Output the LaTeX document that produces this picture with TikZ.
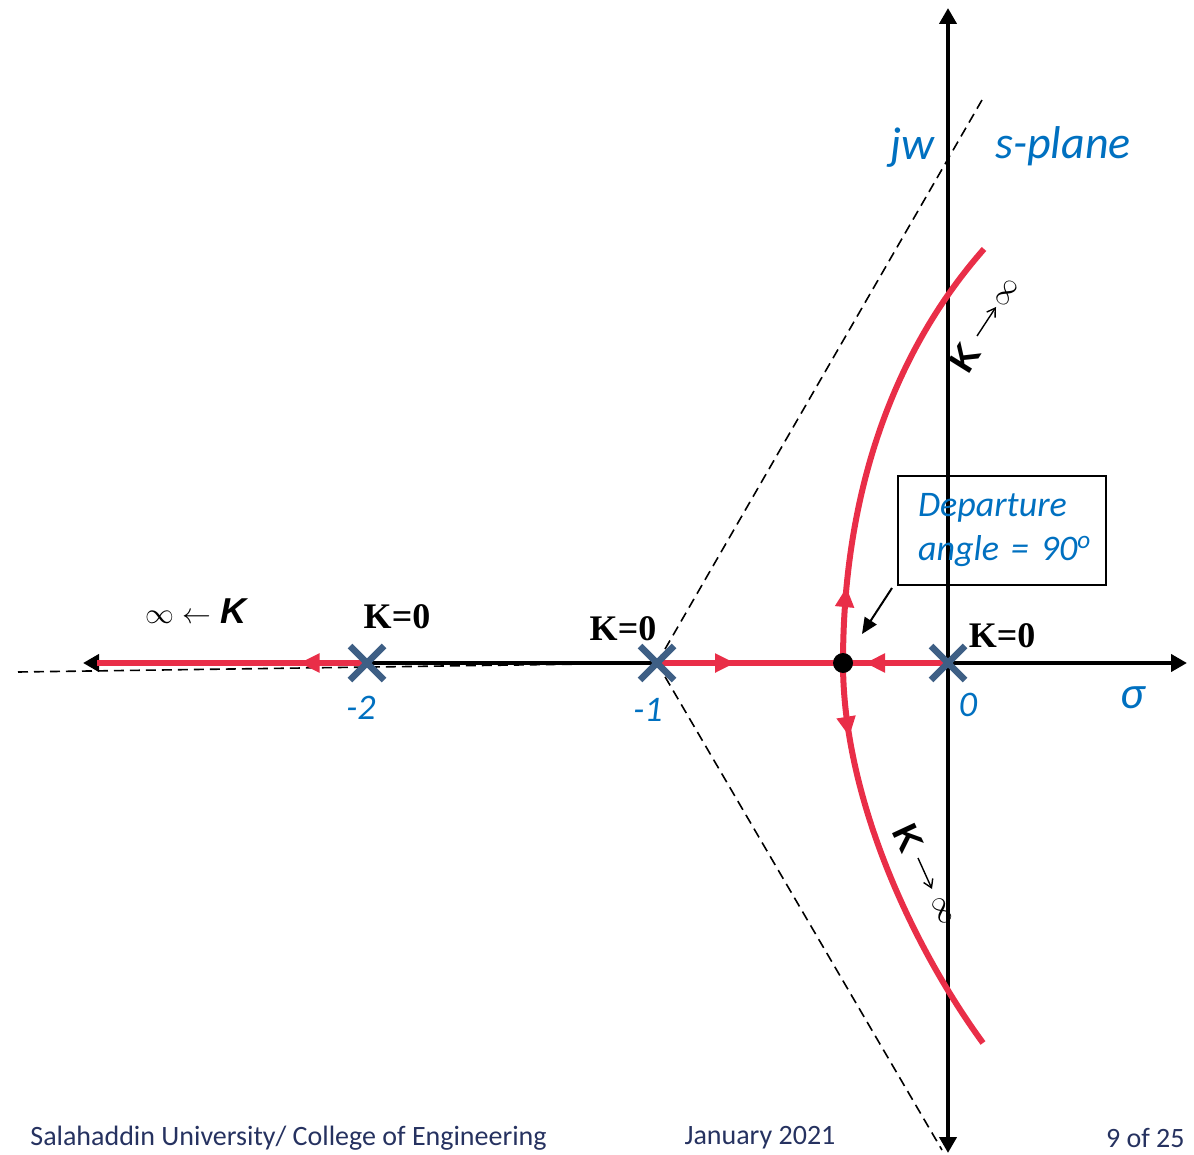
\documentclass[tikz,border=0pt]{standalone}
\usepackage{fontspec}
\usetikzlibrary{arrows.meta,decorations.markings}
\newfontfamily\cand{Carlito}
\newfontfamily\tnr{Liberation Serif}
\newfontfamily\lsans{Liberation Sans}
\definecolor{locus}{RGB}{233,46,72}
\definecolor{polec}{RGB}{62,95,133}
\definecolor{lblue}{RGB}{0,112,192}
\definecolor{navy}{RGB}{38,50,96}
\tikzset{
  axis/.style={line width=2pt,{Triangle[length=8pt,width=8.5pt]}-{Triangle[length=8pt,width=8.5pt]}},
  asym/.style={line width=0.8pt,dash pattern=on 5pt off 3pt},
  locus/.style={draw=locus,line width=3pt},
  midarrow/.style={postaction={decorate},decoration={markings,mark=at position #1 with {\arrow[locus]{Triangle[length=10pt,width=9pt]}}}},
  polemark/.style={draw=polec,line width=3.2pt},
  klab/.style={font=\tnr\bfseries\fontsize{18}{20}\selectfont,inner sep=0pt},
  blab/.style={font=\cand\itshape\fontsize{18}{20}\selectfont,text=lblue,inner sep=0pt},
  foot/.style={font=\cand\fontsize{14}{16}\selectfont,text=navy,inner sep=0pt},
  ptr/.style={line width=1pt,-{Triangle[length=8pt,width=7pt]}},
  kbig/.style={font=\lsans\bfseries\fontsize{18}{20}\selectfont,inner sep=1pt},
  infl/.style={font=\fontsize{15}{17}\selectfont,inner sep=1pt},
  thinptr/.style={line width=0.7pt,-{Straight Barb[length=4pt,width=5pt]}},
}
\begin{document}
\begin{tikzpicture}[x=0.5pt,y=-0.5pt]
\useasboundingbox (0,0) rectangle (1194,1155);
% coordinates
\coordinate (p2) at (367,663);
\coordinate (p1) at (657,663);
\coordinate (p0) at (948,663);
\coordinate (bk) at (843,663);
\coordinate (xl) at (83,663);
\coordinate (xr) at (1187,663);
\coordinate (yt) at (948,8);
\coordinate (yb) at (948,1153);
\coordinate (a0) at (18,672);
\coordinate (au) at (982,100);
\coordinate (ad) at (942,1150);
\coordinate (lend) at (97,663);
\coordinate (uend) at (984,249);
\coordinate (dend) at (983,1043);
% asymptotes
\draw[asym] (a0) -- (p1);
\draw[asym] (p1) -- (au);
\draw[asym] (p1) -- (ad);
% axes
\draw[axis] (xl) -- (xr);
\draw[axis] (yb) -- (yt);
% loci
\draw[locus,midarrow=0.25] (p2) -- (lend);
\draw[locus,midarrow=0.42] (p1) -- (bk);
\draw[locus,midarrow=0.79] (p0) -- (bk);
\draw[locus,midarrow=0.17] (bk) .. controls (843,490) and (895,350) .. (uend);
\draw[locus,midarrow=0.18] (bk) .. controls (843,800) and (915,950) .. (dend);
% poles
\foreach \p in {p2,p1,p0}{
  \draw[polemark] ([shift={(-17,-17)}]\p) -- ([shift={(17,17)}]\p);
  \draw[polemark] ([shift={(-17,17)}]\p) -- ([shift={(17,-17)}]\p);
}
\fill (bk) circle (10);
% labels
\node[klab] (k2) at (397,617) {K=0};
\node[klab] (k1) at (623,629) {K=0};
\node[klab] (k0) at (1002,636) {K=0};
\node[blab] (l2) at (361,708) {-2};
\node[blab] (l1) at (648,710) {-1};
\node[blab] (l0) at (968,705) {0};
\node[blab,font=\cand\itshape\fontsize{23}{26}\selectfont] (sig) at (1133,698) {σ};
\node[blab,font=\cand\itshape\fontsize{23}{26}\selectfont] (jw) at (912,148) {jw};
\node[blab,font=\cand\itshape\fontsize{23}{26}\selectfont] (sp) at (1063,146) {s-plane};
\node[font=\fontsize{14}{16}\selectfont,inner sep=0pt] (kinf) at (196,611) {$\infty\leftarrow$ {\lsans\bfseries\itshape\fontsize{18}{20}\selectfont K}};
% K -> infinity, upper branch
\node[kbig,rotate=58] (kua) at (965,358) {K};
\node[infl,rotate=58] (kub) at (1007,293) {$\infty$};
\draw[thinptr] (977,336) -- (996,307);
% K -> infinity, lower branch
\node[kbig,rotate=-65] (kda) at (908,838) {K};
\node[infl,rotate=-65] (kdb) at (942,911) {$\infty$};
\draw[thinptr] (918,858) -- (932,889);
% departure box
\node[draw,line width=0.8pt,minimum width=104pt,minimum height=54.5pt,inner xsep=4pt,text width=96pt,align=left,
      font=\cand\itshape\fontsize{18}{22}\selectfont,text=lblue] (dep) at (1002,530.5)
      {\hspace*{6pt}\mbox{Departure}\\\hspace*{6pt}\mbox{angle = 90\textsuperscript{o}}};
\coordinate (ds) at (892,588);
\coordinate (dt) at (862,634);
\draw[ptr] (ds) -- (dt);
% footer
\node[foot,anchor=west] (f1) at (30,1138) {Salahaddin University/ College of Engineering};
\node[foot] (f2) at (760,1138) {January 2021};
\node[foot,anchor=east] (f3) at (1185,1138) {9 of 25};
\end{tikzpicture}
\end{document}
